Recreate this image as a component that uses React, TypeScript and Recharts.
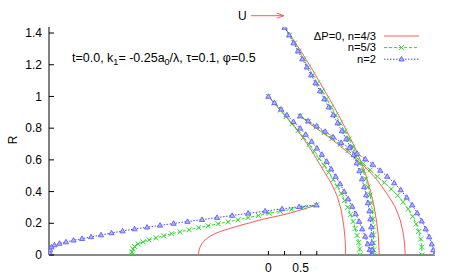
import { ScatterChart, Scatter, XAxis, YAxis, Legend } from 'recharts'

const FONT = '"Liberation Sans", Arial, Helvetica, sans-serif'

const xTicks = [0, 0.25, 0.5, 0.75]
const xLabelled = [0, 0.5]
const yTicks = [0, 0.2, 0.4, 0.6, 0.8, 1, 1.2, 1.4]
const xDomain = [-3.405, 2.585]
const yDomain = [0, 1.438]

// ΔP=0, n=4/3 (red, no markers)
const red43Low = [[-1.087, 0], [-1.079, 0.025], [-1.061, 0.05], [-1.03, 0.073], [-0.983, 0.095], [-0.921, 0.114], [-0.843, 0.132], [-0.75, 0.148], [-0.626, 0.164], [-0.471, 0.183], [-0.315, 0.2], [-0.16, 0.218], [-0.005, 0.233], [0.182, 0.249], [0.368, 0.268], [0.554, 0.29], [0.745, 0.315]]
const red43Mid = [[0, 1.0], [0.182, 0.914], [0.368, 0.826], [0.539, 0.738], [0.694, 0.643], [0.849, 0.536], [0.974, 0.454], [1.067, 0.372], [1.129, 0.284], [1.168, 0.189], [1.191, 0.095], [1.199, 0]]
const red43Top = [[0.252, 1.435], [0.337, 1.387], [0.492, 1.293], [0.648, 1.192], [0.803, 1.085], [0.958, 0.977], [1.113, 0.864], [1.238, 0.763], [1.346, 0.675], [1.44, 0.586], [1.517, 0.498], [1.587, 0.397], [1.641, 0.303], [1.68, 0.208], [1.708, 0.107], [1.719, 0]]
const red43Right = [[0.492, 0.876], [0.648, 0.826], [0.803, 0.782], [0.958, 0.738], [1.113, 0.687], [1.3, 0.624], [1.502, 0.555], [1.688, 0.473], [1.843, 0.385], [1.967, 0.303], [2.045, 0.221], [2.092, 0.139], [2.115, 0.063], [2.123, 0]]

// n=5/3 (green)
const green53Low = [[-2.121, 0], [-2.117, 0.019], [-2.104, 0.038], [-2.078, 0.054], [-2.023, 0.069], [-1.946, 0.083], [-1.853, 0.096], [-1.744, 0.108], [-1.627, 0.121], [-1.503, 0.134], [-1.371, 0.146], [-1.231, 0.159], [-1.084, 0.172], [-0.936, 0.184], [-0.781, 0.197], [-0.626, 0.209], [-0.471, 0.222], [-0.315, 0.236], [-0.152, 0.249], [0.011, 0.263], [0.182, 0.276], [0.36, 0.289], [0.547, 0.301], [0.745, 0.315]]
const green53Mid = [[0, 1.0], [0.089, 0.958], [0.186, 0.914], [0.275, 0.873], [0.368, 0.829], [0.461, 0.785], [0.547, 0.741], [0.632, 0.697], [0.71, 0.653], [0.787, 0.608], [0.865, 0.564], [0.935, 0.52], [1.005, 0.476], [1.067, 0.432], [1.129, 0.388], [1.183, 0.344], [1.23, 0.3], [1.276, 0.255], [1.315, 0.211], [1.346, 0.167], [1.377, 0.123], [1.401, 0.079], [1.416, 0.038], [1.424, 0]]
const green53Top = [[0.252, 1.435], [0.329, 1.387], [0.402, 1.337], [0.474, 1.286], [0.545, 1.236], [0.617, 1.185], [0.688, 1.135], [0.759, 1.084], [0.831, 1.034], [0.902, 0.984], [0.974, 0.933], [1.044, 0.883], [1.113, 0.832], [1.183, 0.782], [1.25, 0.731], [1.312, 0.681], [1.371, 0.631], [1.422, 0.58], [1.469, 0.53], [1.509, 0.479], [1.545, 0.429], [1.576, 0.378], [1.598, 0.328], [1.613, 0.277], [1.623, 0.227], [1.629, 0.177], [1.632, 0.126], [1.634, 0.076], [1.634, 0.032], [1.634, 0]]
const green53Right = [[0.492, 0.876], [0.617, 0.842], [0.741, 0.807], [0.865, 0.772], [0.989, 0.735], [1.113, 0.697], [1.238, 0.659], [1.354, 0.618], [1.471, 0.577], [1.579, 0.536], [1.688, 0.495], [1.797, 0.457], [1.905, 0.416], [2.006, 0.375], [2.092, 0.334], [2.169, 0.29], [2.239, 0.243], [2.294, 0.196], [2.332, 0.148], [2.363, 0.101], [2.379, 0.05], [2.384, 0]]

// n=2 (blue)
const blue2Low = [[-3.398, 0], [-3.39, 0.013], [-3.387, 0.032], [-3.367, 0.05], [-3.32, 0.063], [-3.242, 0.073], [-3.141, 0.082], [-3.025, 0.093], [-2.893, 0.103], [-2.753, 0.114], [-2.598, 0.126], [-2.435, 0.139], [-2.264, 0.151], [-2.078, 0.164], [-1.884, 0.175], [-1.682, 0.187], [-1.472, 0.199], [-1.255, 0.211], [-1.03, 0.223], [-0.797, 0.236], [-0.564, 0.249], [-0.315, 0.263], [-0.051, 0.277], [0.213, 0.291], [0.477, 0.304], [0.745, 0.315]]
const blue2Mid = [[0, 1.0], [0.093, 0.96], [0.197, 0.919], [0.286, 0.883], [0.388, 0.841], [0.492, 0.799], [0.578, 0.76], [0.671, 0.716], [0.752, 0.673], [0.829, 0.634], [0.904, 0.59], [0.974, 0.542], [1.044, 0.495], [1.113, 0.448], [1.176, 0.4], [1.238, 0.353], [1.3, 0.306], [1.354, 0.259], [1.408, 0.211], [1.455, 0.164], [1.502, 0.117], [1.54, 0.069], [1.571, 0.032], [1.595, 0]]
const blue2Top = [[0.252, 1.435], [0.321, 1.387], [0.39, 1.337], [0.458, 1.286], [0.526, 1.236], [0.595, 1.185], [0.663, 1.135], [0.731, 1.084], [0.8, 1.034], [0.868, 0.984], [0.936, 0.933], [1.005, 0.883], [1.073, 0.832], [1.141, 0.782], [1.207, 0.731], [1.269, 0.681], [1.323, 0.631], [1.37, 0.58], [1.413, 0.53], [1.452, 0.479], [1.486, 0.429], [1.517, 0.378], [1.545, 0.328], [1.567, 0.277], [1.582, 0.227], [1.595, 0.177], [1.602, 0.126], [1.607, 0.076], [1.61, 0.032], [1.61, 0]]
const blue2Right = [[0.492, 0.876], [0.617, 0.845], [0.749, 0.813], [0.88, 0.779], [1.005, 0.744], [1.129, 0.709], [1.253, 0.675], [1.377, 0.64], [1.502, 0.605], [1.618, 0.571], [1.735, 0.533], [1.843, 0.495], [1.952, 0.454], [2.053, 0.41], [2.146, 0.363], [2.231, 0.315], [2.309, 0.265], [2.379, 0.214], [2.441, 0.164], [2.495, 0.114], [2.534, 0.069], [2.558, 0.032], [2.573, 0]]

const RED = '#ff5a5a'
const GREEN = '#2ed82e'
const BLUE = '#4848ff'

const pts = (a: number[][]) => a.map(([x, y]) => ({ x, y }))

const NoMark = () => <g />

const Cross = ({ cx, cy }: any) => (
  <path d={`M${cx - 2.5},${cy - 2.5}L${cx + 2.5},${cy + 2.5}M${cx - 2.5},${cy + 2.5}L${cx + 2.5},${cy - 2.5}`} stroke={GREEN} strokeWidth={1} fill="none" />
)

const Tri = ({ cx, cy }: any) => (
  <path d={`M${cx},${cy - 2.7}L${cx + 2.6},${cy + 1.8}L${cx - 2.6},${cy + 1.8}Z`} stroke="#5c5cff" strokeWidth={0.9} fill="#b4b4ff" />
)

const series = [
  { data: red43Low, color: RED, dash: undefined, shape: NoMark },
  { data: red43Mid, color: RED, dash: undefined, shape: NoMark },
  { data: red43Top, color: RED, dash: undefined, shape: NoMark },
  { data: red43Right, color: RED, dash: undefined, shape: NoMark },
  { data: green53Low, color: GREEN, dash: '3 2', shape: Cross },
  { data: green53Mid, color: GREEN, dash: '3 2', shape: Cross },
  { data: green53Top, color: GREEN, dash: '3 2', shape: Cross },
  { data: green53Right, color: GREEN, dash: '3 2', shape: Cross },
  { data: blue2Low, color: BLUE, dash: '1.5 1.5', shape: Tri },
  { data: blue2Mid, color: BLUE, dash: '1.5 1.5', shape: Tri },
  { data: blue2Top, color: BLUE, dash: '1.5 1.5', shape: Tri },
  { data: blue2Right, color: BLUE, dash: '1.5 1.5', shape: Tri },
]

const txt = { fontFamily: FONT, fontSize: 12, fill: '#000' }

const LeftTick = ({ y, payload }: any) => (
  <g>
    <line x1={49} x2={54} y1={y} y2={y} stroke="#000" />
    <text x={42} y={y} dy={4.2} textAnchor="end" {...txt}>{payload.value}</text>
  </g>
)

const RightTick = ({ y }: any) => <line x1={435} x2={430} y1={y} y2={y} stroke="#000" />

const BottomTick = ({ x, payload }: any) => (
  <g>
    <line x1={x} x2={x} y1={255} y2={251} stroke="#000" />
    {xLabelled.includes(payload.value) && (
      <text x={x} y={272} textAnchor="middle" {...txt}>{payload.value}</text>
    )}
  </g>
)

const TopTick = ({ x }: any) => <line x1={x} x2={x} y1={27} y2={31} stroke="#000" />

const legendItems = [
  { label: 'ΔP=0, n=4/3', color: RED, dash: undefined, mark: null },
  { label: 'n=5/3', color: GREEN, dash: '3 2', mark: Cross },
  { label: 'n=2', color: BLUE, dash: '1.5 1.5', mark: Tri },
]

function KeyBox() {
  return (
    <svg width={130} height={42}>
      {legendItems.map((it, i) => {
        const y = 8 + i * 11.6
        const M = it.mark
        return (
          <g key={it.label}>
            <text x={76} y={y} dy={3.8} textAnchor="end" fontFamily={FONT} fontSize={11.2} fill="#000">{it.label}</text>
            <line x1={84} x2={119} y1={y} y2={y} stroke={it.color} strokeDasharray={it.dash} />
            {M && <M cx={101.5} cy={y} />}
          </g>
        )
      })}
    </svg>
  )
}

export default function App() {
  return (
    <div style={{ position: 'absolute', left: 0, top: 0, width: 457, height: 277, background: '#fff' }}>
      <ScatterChart width={457} height={277} margin={{ top: 27, right: 22, bottom: 0, left: 0 }}>
        <XAxis
          type="number"
          dataKey="x"
          domain={xDomain}
          ticks={xTicks}
          allowDataOverflow
          height={22}
          axisLine={{ stroke: '#888', strokeWidth: 2 }}
          tickLine={false}
          tick={BottomTick}
          interval={0}
        />
        <XAxis
          xAxisId="top"
          orientation="top"
          type="number"
          domain={xDomain}
          ticks={[0]}
          allowDataOverflow
          height={0}
          axisLine={{ stroke: '#000' }}
          tickLine={false}
          tick={TopTick}
        />
        <YAxis
          type="number"
          dataKey="y"
          domain={yDomain}
          ticks={yTicks}
          allowDataOverflow
          width={49}
          axisLine={{ stroke: '#000' }}
          tickLine={false}
          tick={LeftTick}
          interval={0}
        />
        <YAxis
          yAxisId="right"
          orientation="right"
          type="number"
          domain={yDomain}
          ticks={yTicks}
          allowDataOverflow
          width={0}
          axisLine={{ stroke: '#222' }}
          tickLine={false}
          tick={RightTick}
          interval={0}
        />
        {series.map((s, i) => (
          <Scatter
            key={i}
            data={pts(s.data)}
            line={{ stroke: s.color, strokeWidth: 1, strokeDasharray: s.dash }}
            lineType="joint"
            shape={s.shape}
            fill={s.color}
            isAnimationActive={false}
            legendType="none"
          />
        ))}
        <Legend
          layout="vertical"
          align="center"
          verticalAlign="middle"
          wrapperStyle={{ left: 300, top: 28, width: 130, height: 42 }}
          content={() => <KeyBox />}
        />
      </ScatterChart>
      <svg width={457} height={277} style={{ position: 'absolute', left: 0, top: 0, pointerEvents: 'none' }}>
        <text x={13} y={140} dy={4.2} textAnchor="middle" transform="rotate(-90 13 140)" {...txt}>R</text>
        <text x={72} y={61.5} {...txt} fontSize={12.5}>
          t=0.0, k<tspan fontSize={9} dy={3}>1</tspan>
          <tspan dy={-3}>= -0.25a</tspan>
          <tspan fontSize={9} dy={3}>0</tspan>
          <tspan dy={-3}>/λ, τ=0.1, φ=0.5</tspan>
        </text>
        <text x={238} y={20} {...txt}>U</text>
        <line x1={251} x2={284} y1={15.7} y2={15.7} stroke={RED} />
        <path d="M277,13.2L284,15.7L277,18.2" stroke={RED} fill="none" />
      </svg>
    </div>
  )
}
